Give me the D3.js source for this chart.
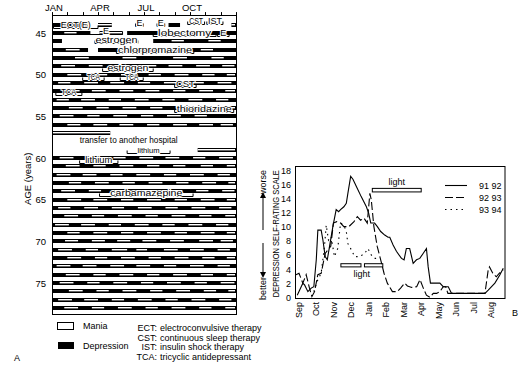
<!DOCTYPE html>
<html><head><meta charset="utf-8">
<script src="https://cdn.jsdelivr.net/npm/d3@7/dist/d3.min.js"></script>
<style>
body{margin:0;background:#fff}
svg{display:block}
text{font-family:"Liberation Sans",Arial,sans-serif;fill:#000}
</style>
</head><body>
<svg id="c" width="529" height="368"></svg>
<script>
// ---------------- Panel A data ----------------
const monthLabelsA = ["JAN","APR","JUL","OCT"];
const monthLabelMonthsA = [0,3,6,9];
const ageTicks = [45,50,55,60,65,70,75];
const rowAges = [44,45,46,47,48,49,50,51,52,53,54,55,56,57,58,59,60,61,62,63,64,65,66,67,68,69,70,71,72,73,74,75,76,77,78];
// depression spans [startMonth, endMonth] per row
const depressionSpans = [
 [[0,2.35],[7.6,8.35]],
 [[0,2.5],[4.9,12]],
 [[0,0.65],[6.6,12]],
 [[0,2.35],[3.0,12]],
 [[0,12]],[[0,12]],[[0,12]],[[0,12]],[[0,12]],[[0,12]],[[0,12]],[[0,12]],[[0,12]],
 [],
 [],
 [],
 [[0,12]],[[0,12]],[[0,12]],[[0,12]],[[0,12]],[[0,12]],[[0,12]],[[0,12]],[[0,12]],[[0,12]],
 [[0,12]],[[0,12]],[[0,12]],[[0,12]],[[0,12]],[[0,12]],[[0,12]],[[0,12]],[[0,12]]
];
// mania spans per row
const maniaSpans = [
 [[3.0,3.9],[11.7,12]],
 [[0.8,1.6],[3.1,4.6],[7.5,8.3]],
 [[7.8,8.6],[10.2,11.0]],
 [[0.9,1.8],[4.9,5.7],[9.7,10.5]],
 [[1.5,2.4],[4.6,5.5],[7.9,8.8],[10.4,11.2]],
 [[0.6,1.5],[2.4,3.3],[4.1,5.0],[5.9,6.8],[7.6,8.5],[9.4,10.3],[11.1,11.9]],
 [[1.0,1.9],[2.8,3.6],[4.5,5.4],[6.3,7.1],[8.0,8.9],[9.8,10.6],[11.4,12]],
 [[0.4,1.2],[2.1,3.0],[3.8,4.7],[5.6,6.4],[7.3,8.2],[9.1,9.9],[10.8,11.7]],
 [[0.9,1.8],[2.6,3.5],[4.4,5.3],[6.1,7.0],[7.9,8.7],[9.6,10.5],[11.3,12]],
 [[0.3,1.1],[1.9,2.8],[3.7,4.5],[5.4,6.3],[7.2,8.0],[8.9,9.8],[10.7,11.5]],
 [[1.1,2.0],[2.9,3.7],[4.6,5.5],[6.4,7.2],[8.1,9.0],[9.9,10.7],[11.5,12]],
 [[0.5,1.4],[2.3,3.1],[4.0,4.9],[5.8,6.6],[7.5,8.4],[9.3,10.1]],
 [[1.0,1.85],[2.7,3.6],[4.4,5.3],[6.2,7.0],[7.9,8.8],[9.6,10.5],[11.0,11.8]],
 [[0,3.8]],
 [],
 [[9.5,12]],
 [[0.5,1.4],[2.2,3.1],[4.0,4.8],[5.7,6.6],[7.4,8.3],[9.2,10.0],[10.9,11.8]],
 [[0.9,1.8],[2.7,3.5],[4.4,5.3],[6.2,7.0],[7.9,8.7],[9.7,10.5],[11.4,12]],
 [[0.3,1.2],[2.0,2.9],[3.8,4.6],[5.5,6.4],[7.3,8.1],[9.0,9.9],[10.8,11.6]],
 [[1.1,1.9],[2.8,3.7],[4.6,5.4],[6.3,7.2],[8.1,8.9],[9.8,10.7],[11.5,12]],
 [[0.6,1.5],[2.4,3.2],[4.1,5.0],[5.9,6.7],[7.6,8.5],[9.4,10.2],[11.1,11.9]],
 [[1.0,1.9],[2.7,3.6],[4.5,5.3],[6.2,7.1],[8.0,8.8],[9.7,10.6],[11.4,12]],
 [[0.4,1.2],[2.1,3.0],[3.9,4.7],[5.6,6.5],[7.4,8.2],[9.1,10.0],[10.9,11.7]],
 [[0.8,1.7],[2.6,3.4],[4.3,5.2],[6.1,6.9],[7.8,8.7],[9.6,10.4],[11.3,12]],
 [[0.2,1.1],[1.9,2.8],[3.7,4.5],[5.4,6.3],[7.2,8.0],[8.9,9.8],[10.7,11.5]],
 [[1.0,1.8],[2.7,3.6],[4.5,5.3],[6.2,7.1],[8.0,8.8],[9.7,10.6],[11.4,12]],
 [[0.85,1.7],[2.6,3.45],[4.25,5.1],[5.9,6.8],[7.7,8.6],[9.6,10.5],[11.0,11.8]],
 [[0.4,1.3],[2.2,3.0],[3.9,4.9],[5.5,6.2],[7.3,8.2],[9.0,9.9],[10.8,11.6]],
 [[1.0,1.9],[2.8,3.6],[4.5,5.4],[6.3,7.1],[8.0,8.9],[9.8,10.6],[11.4,12]],
 [[0.3,1.2],[2.0,2.9],[3.8,4.7],[5.5,6.4],[7.3,8.1],[9.0,9.9],[10.8,11.6]],
 [[0.9,1.8],[2.7,3.5],[4.4,5.3],[6.2,7.0],[7.9,8.8],[9.7,10.5],[11.4,12]],
 [[0.5,1.4],[2.3,3.1],[4.0,4.9],[5.8,6.6],[7.5,8.4],[9.3,10.1],[11.0,11.9]],
 [[1.1,2.0],[2.9,3.7],[4.6,5.5],[6.4,7.2],[8.1,9.0],[9.9,10.7],[11.5,12]],
 [[0.4,1.3],[2.1,3.0],[3.9,4.7],[5.6,6.5],[7.4,8.2],[9.1,10.0],[10.9,11.7]],
 [[0.8,1.7],[2.6,3.4],[4.3,5.2],[6.1,6.9],[7.8,8.7],[9.6,10.4],[11.3,12]]
];
// treatment annotations: text, start month, end month, age position, text width, font size
const treatText  = ["ECT(E)","E","E","CST","IST","E","estrogen","lobectomy","E","chlorpromazine","estrogen","TCA","TCA","CST","TCA","thioridazine","lithium","lithium","carbamazepine"];
const treatStart = [0.1, 5.45,6.85,8.85,10.1, 2.45,2.8, 6.6, 10.8, 4.2, 3.3, 2.0, 4.45, 8.0, 0.25, 8.0, 4.9, 1.8, 3.1];
const treatEnd   = [3.0, 5.95,7.35,9.95,11.15,4.6, 5.6, 10.7,11.55,9.25,6.6, 3.4, 5.95, 9.4, 1.95, 11.85,7.7, 4.3, 9.2];
const treatAge   = [44.45,44.1,44.1,43.95,43.95,45.15,46.2,45.4,45.4,47.45,49.6,50.6,50.6,51.5,52.45,54.45,59.35,60.55,64.55];
const treatWidth = [30,6,6,14,14,6,42,53,6,74,41,13,13,19,15,55,22,27,72];
const treatSize  = [9,9,9,9,9,9,9,9,9,9,9,9,9,9,9,9,8,8.5,9];
const transferText = "transfer to another hospital";

const legendA = ["Mania","Depression"];
const abbrKeys = ["ECT:","CST:","IST:","TCA:"];
const abbrDefs = ["electroconvulsive therapy","continuous sleep therapy","insulin shock therapy","tricyclic antidepressant"];

// ---------------- Panel B data ----------------
const monthLabelsB = ["Sep","Oct","Nov","Dec","Jan","Feb","Mar","Apr","May","Jun","Jul","Aug"];
const yTicksB = [0,2,4,6,8,10,12,14,16,18];
const seriesNames = ["91 92","92 93","93 94"];
const s9192 = [[0.1,0.3],[0.42,2.0],[0.52,1.75],[0.71,0.8],[0.9,1.3],[1.05,1.5],[1.19,5.3],[1.28,9.5],[1.47,9.5],[1.57,8.1],[1.7,5.75],[1.82,5.3],[1.95,7.2],[2.14,10],[2.33,12.4],[2.47,12.1],[2.58,12.4],[2.77,12.8],[2.91,13.3],[3.0,14.7],[3.16,17.1],[3.29,16.7],[3.48,15.7],[3.77,14.2],[4.06,12.8],[4.19,11.9],[4.31,10.5],[4.53,10.5],[4.69,10],[4.88,9.3],[5.11,8.8],[5.3,8.5],[5.4,8.5],[5.59,7.4],[5.78,6.5],[6.07,5.5],[6.22,5.3],[6.35,6.9],[6.54,6.9],[6.74,4.8],[6.93,5.3],[7.12,5.5],[7.31,6.2],[7.5,6.9],[7.6,4.3],[7.73,2.0],[8.27,2.0],[8.46,1.5],[8.75,1.5],[8.94,0.55],[10.85,0.55],[11.04,1.0],[11.42,2.0],[11.71,3.2],[11.9,4.1]];
const s9293 = [[0.03,3.2],[0.2,3.4],[0.42,2.0],[0.61,3.2],[0.8,1.3],[0.94,0.1],[1.09,0.8],[1.28,3.2],[1.47,3.4],[1.7,6.2],[1.85,6.7],[2.02,7.2],[2.17,10.5],[2.36,10.7],[2.58,10.5],[2.77,10],[3.06,10],[3.35,10.7],[3.54,11.4],[3.73,10.9],[3.92,11.2],[4.11,10.5],[4.26,14.7],[4.34,13.8],[4.49,10],[4.68,7.2],[4.88,5.3],[5.07,3.4],[5.26,2.0],[5.55,0.8],[5.83,0.8],[6.02,1.3],[6.25,2.0],[6.41,1.6],[6.66,1.4],[6.94,1.5],[7.13,2.5],[7.32,1.3],[7.5,0.3],[7.7,0.0],[7.89,0.55],[8.08,0.55],[8.27,0.8],[8.46,1.5],[8.6,1.5],[8.73,0.55],[10.85,0.55],[11.04,3.9],[11.11,4.3],[11.3,3.4],[11.5,2.9],[11.68,3.4],[11.9,3.9]];
const s9394 = [[1.05,0.8],[1.28,2.5],[1.47,3.4],[1.66,7.2],[1.76,10.2],[1.89,8.1],[2.04,8.6],[2.23,5.75],[2.42,6.9],[2.58,10.5],[2.77,10.2],[2.91,9.3],[3.0,7.6],[3.2,6.7],[3.39,5.75],[3.68,5.75],[3.96,6.2],[4.15,6.9],[4.34,6.0],[4.53,5.5],[4.82,5.5]];
const lightTop = [4.4, 7.2, 15.4, 14.9];      // startMonth, endMonth, top, bottom (scale units)
const lightLow1 = [2.6, 3.75, 4.75, 4.3];
const lightLow2 = [3.95, 5.0, 4.75, 4.3];

const svg = d3.select("#c");

// ================= PANEL A =================
const xA = d3.scaleLinear().domain([0,12]).range([52,236]);
const yA = d3.scaleLinear().domain([45,75]).range([33,283]);
const gA = svg.append("g");

gA.append("rect").attr("x",xA(0)).attr("y",yA(42.85)).attr("width",xA(12)-xA(0)).attr("height",yA(78.72)-yA(42.85))
  .attr("fill","none").attr("stroke","#000").attr("stroke-width",1).attr("shape-rendering","crispEdges");
gA.selectAll(".mt").data(d3.range(0,13)).enter().append("line")
  .attr("x1",d=>Math.round(xA(d))+0.5).attr("x2",d=>Math.round(xA(d))+0.5)
  .attr("y1",yA(42.85)).attr("y2",yA(42.85)-3).attr("stroke","#000");
gA.selectAll(".ml").data(monthLabelsA).enter().append("text")
  .attr("x",(d,i)=>xA(monthLabelMonthsA[i])+2).attr("y",yA(42.85)-4)
  .attr("text-anchor","middle").attr("font-size",9.5).text(d=>d);
gA.selectAll(".at").data(ageTicks).enter().append("text")
  .attr("x",46).attr("y",d=>yA(d)+3.5).attr("text-anchor","end").attr("font-size",9.5).text(d=>d);
gA.append("text").attr("transform",`translate(31,${yA(62.5)}) rotate(-90)`)
  .attr("text-anchor","middle").attr("font-size",9.5).text("AGE  (years)");

rowAges.forEach((age,i)=>{
  const y0 = Math.round(yA(age));
  const top = y0-2;
  depressionSpans[i].forEach(s=>{
    gA.append("rect").attr("x",xA(s[0])).attr("y",top).attr("width",xA(s[1])-xA(s[0])).attr("height",4).attr("fill","#000");
  });
  maniaSpans[i].forEach(s=>{
    gA.append("rect").attr("x",xA(s[0])).attr("y",top).attr("width",xA(s[1])-xA(s[0])).attr("height",4).attr("fill","#000");
    gA.append("rect").attr("x",xA(s[0])+ (s[0]>0?0:1)).attr("y",top+1).attr("width",xA(s[1])-xA(s[0])-(s[0]>0?0:1)-(s[1]<12?0:1)).attr("height",1.4).attr("fill","#fff");
  });
});

treatText.forEach((t,i)=>{
  const xs = xA(treatStart[i]), xe = xA(treatEnd[i]), y = Math.round(yA(treatAge[i]))+0.5;
  const g = gA.append("g");
  g.append("path").attr("d",`M${xs},${y-3}V${y}H${xe}V${y-3}`).attr("fill","none").attr("stroke","#000").attr("stroke-width",1);
  g.append("text").attr("x",(xs+xe)/2).attr("y",y-1).attr("text-anchor","middle").attr("font-size",treatSize[i])
    .attr("textLength",treatWidth[i]).attr("lengthAdjust","spacingAndGlyphs")
    .attr("stroke","#fff").attr("stroke-width",2).attr("paint-order","stroke").text(t);
});
gA.append("text").attr("x",xA(5)).attr("y",yA(58.25)).attr("text-anchor","middle").attr("font-size",8.5)
  .attr("textLength",98).attr("lengthAdjust","spacingAndGlyphs").text(transferText);

gA.append("rect").attr("x",57.5).attr("y",322.5).attr("width",16).attr("height",7).attr("fill","#fff").attr("stroke","#000");
gA.append("rect").attr("x",58).attr("y",342).attr("width",16).attr("height",7).attr("fill","#000");
gA.append("text").attr("x",83).attr("y",329).attr("font-size",9).text(legendA[0]);
gA.append("text").attr("x",83).attr("y",349).attr("font-size",9).text(legendA[1]);
gA.append("text").attr("x",14).attr("y",361).attr("font-size",9).text("A");
abbrKeys.forEach((k,i)=>{
  const y = 331 + i*9.6;
  gA.append("text").attr("x",157).attr("y",y).attr("text-anchor","end").attr("font-size",9).text(k);
  gA.append("text").attr("x",160).attr("y",y).attr("font-size",9).text(abbrDefs[i]);
});

// ================= PANEL B =================
const xB = d3.scaleLinear().domain([0,12]).range([295.5,505]);
const yB = d3.scaleLinear().domain([0,18]).range([297.3,170]);
const gB = svg.append("g");
gB.append("rect").attr("x",295.5).attr("y",166.5).attr("width",209.5).attr("height",132)
  .attr("fill","none").attr("stroke","#000");
gB.selectAll(".yt").data(yTicksB).enter().append("text")
  .attr("x",291).attr("y",d=>yB(d)+3.5).attr("text-anchor","end").attr("font-size",9).text(d=>d);
gB.selectAll(".xl").data(monthLabelsB).enter().append("text")
  .attr("transform",(d,i)=>`translate(${xB(i+0.2)+3},302) rotate(-90)`)
  .attr("text-anchor","end").attr("font-size",9).text(d=>d);
gB.append("text").attr("x",512).attr("y",316).attr("font-size",9).text("B");
gB.append("text").attr("transform",`translate(279,${(yB(0)+yB(18))/2}) rotate(-90)`)
  .attr("text-anchor","middle").attr("font-size",9).attr("textLength",127).attr("lengthAdjust","spacingAndGlyphs")
  .text("DEPRESSION SELF-RATING SCALE");
gB.append("text").attr("transform",`translate(266,170) rotate(-90)`).attr("text-anchor","end").attr("font-size",9).text("worse");
gB.append("text").attr("transform",`translate(266,300) rotate(-90)`).attr("text-anchor","start").attr("font-size",9).text("better");
gB.append("line").attr("x1",263).attr("x2",263).attr("y1",230).attr("y2",194).attr("stroke","#000");
gB.append("path").attr("d","M260,198L263,192L266,198Z").attr("fill","#000");
gB.append("line").attr("x1",263).attr("x2",263).attr("y1",243).attr("y2",276).attr("stroke","#000");
gB.append("path").attr("d","M260,272L263,278L266,272Z").attr("fill","#000");

[lightTop,lightLow1,lightLow2].forEach(b=>{
  gB.append("rect").attr("x",xB(b[0])).attr("y",yB(b[2])).attr("width",xB(b[1])-xB(b[0])).attr("height",yB(b[3])-yB(b[2]))
    .attr("fill","#fff").attr("stroke","#000");
});
gB.append("text").attr("x",(xB(lightTop[0])+xB(lightTop[1]))/2).attr("y",yB(lightTop[2])-3).attr("text-anchor","middle").attr("font-size",9).text("light");
gB.append("text").attr("x",(xB(lightLow1[0])+xB(lightLow2[1]))/2).attr("y",yB(lightLow1[3])+10).attr("text-anchor","middle").attr("font-size",9).text("light");

const line = d3.line().x(d=>xB(d[0])).y(d=>yB(d[1]));
const styles = [null,"8,3","1.5,4"];
[s9192,s9293,s9394].forEach((s,i)=>{
  gB.append("path").datum(s).attr("d",line).attr("fill","none").attr("stroke","#000").attr("stroke-width",1.1)
    .attr("stroke-dasharray",styles[i]);
});
seriesNames.forEach((n,i)=>{
  const y = 185.5 + i*12;
  gB.append("line").attr("x1",445).attr("x2",467).attr("y1",y).attr("y2",y).attr("stroke","#000").attr("stroke-width",1.1).attr("stroke-dasharray",styles[i]);
  gB.append("text").attr("x",479).attr("y",y+3).attr("font-size",9).text(n);
});
</script>
</body></html>
